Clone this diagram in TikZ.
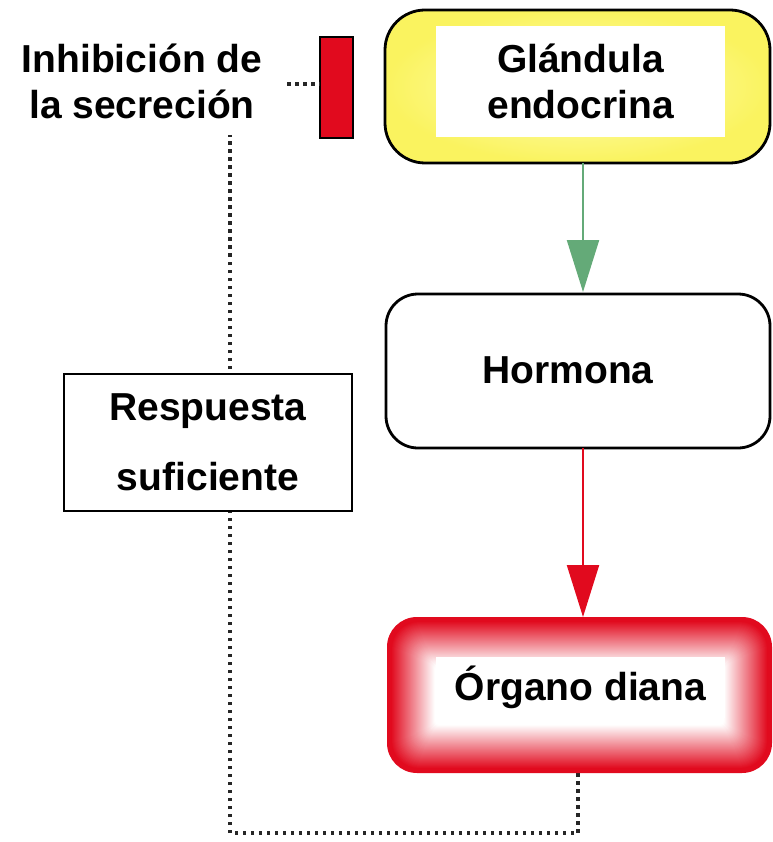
\documentclass[tikz,border=0pt]{standalone}
\usepackage{fontspec}
\setmainfont{Liberation Sans}
\usetikzlibrary{arrows.meta}
\definecolor{ylw}{RGB}{250,243,95}
\definecolor{ylwin}{RGB}{255,255,185}
\definecolor{grn}{RGB}{100,170,120}
\definecolor{rd}{RGB}{225,10,30}
\tikzset{
  lbl/.style={font=\fontsize{39}{46}\selectfont\bfseries, align=center, inner sep=0pt},
  dotline/.style={line width=3.6pt, dash pattern=on 3.5pt off 4.5pt, black!85},
  flow/.style={line width=2.2pt, -{Triangle[length=52pt,width=32pt]}},
}
\begin{document}
\begin{tikzpicture}[x=1pt,y=-1pt]
\useasboundingbox (0,0) rectangle (772,842);
% dotted feedback
\coordinate (fbtop) at (230,135);
\coordinate (fbcorner1) at (230,833);
\coordinate (fbcorner2) at (578,833);
\coordinate (orgbot) at (578,773);
\draw[dotline] (orgbot) -- (fbcorner2) -- (fbcorner1) -- (fbtop);
% glandula
\path[draw=black, line width=2.8pt, rounded corners=40pt, inner color=ylwin, outer color=ylw] (385,10) rectangle (770,163);
\node[fill=white, minimum width=289pt, minimum height=111pt, inner sep=0pt] (gland) at (580.5,81.5) {};
\node[lbl] at (gland) {Glándula\\endocrina};
\coordinate (glandbot) at (583,163);
% hormona
\draw[line width=2.8pt, fill=white, rounded corners=32pt] (386,294) rectangle (770,448);
\node[lbl] (horm) at (568,370) {Hormona};
\coordinate (hormtop) at (583,292);
\coordinate (hormbot) at (583,448);
% organo
\foreach \i in {0,...,48}{
  \pgfmathsetmacro{\p}{max(0,min(100,100-(\i-4)*2.3))}
  \fill[rd!\p!white, rounded corners={max(4,30-\i*0.6)*1pt}] (387+\i,617+\i) rectangle (772-\i,773-\i);
}
\node[fill=white, minimum width=289pt, minimum height=61pt, inner sep=0pt] (organ) at (580.5,687.5) {};
\node[lbl] at (organ) {Órgano diana};
\coordinate (organtop) at (583,617);
% arrows
\draw[flow, grn, draw=grn] (glandbot) -- (hormtop);
\draw[flow, rd, draw=rd] (hormbot) -- (organtop);
% inhibition bar
\node[draw=black, line width=1.5pt, fill=rd, minimum width=33pt, minimum height=101pt, inner sep=0pt] (bar) at (336.5,87.5) {};
\coordinate (inhend) at (287,84);
\draw[dotline] (inhend) -- (bar.west |- inhend);
\node[lbl] (inh) at (142,81) {Inhibición de\\la secreción};
% respuesta
\node[draw=black, line width=1.5pt, fill=white, minimum width=288pt, minimum height=137pt, inner sep=0pt] (resp) at (208,442.5) {};
\node[lbl, font=\fontsize{39}{70}\selectfont\bfseries] at (resp) {Respuesta\\suficiente};
\end{tikzpicture}
\end{document}
